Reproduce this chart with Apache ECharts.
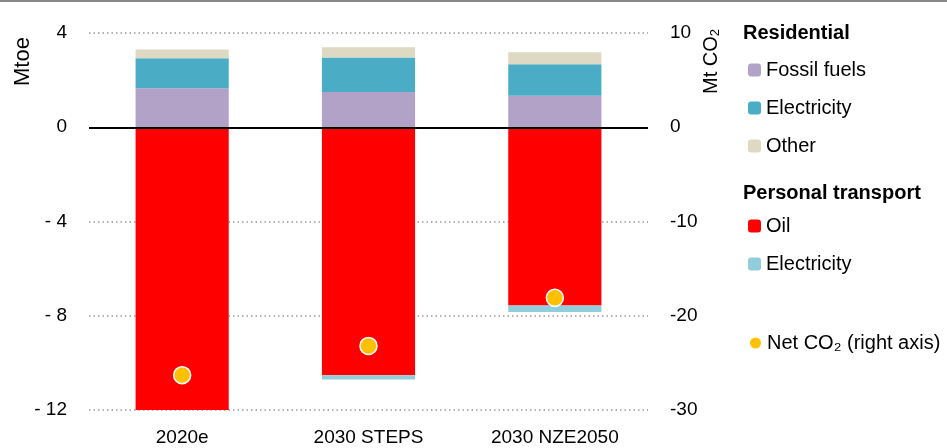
<!DOCTYPE html>
<html>
<head>
<meta charset="utf-8">
<script src="https://cdn.jsdelivr.net/npm/echarts@6/dist/echarts.min.js"></script>
<style>
  html, body { margin: 0; padding: 0; background: #fff; }
  #chart { width: 947px; height: 448px; }
</style>
</head>
<body>
<div id="chart"></div>
<script>
// data (Mtoe, Mt CO2)
const categories = ['2020e', '2030 STEPS', '2030 NZE2050'];
const resFossil = [1.66, 1.50, 1.34];
const resElectricity = [1.27, 1.46, 1.33];
const resOther = [0.37, 0.44, 0.51];
const transportOil = [-12.0, -10.53, -7.57];
const transportElectricity = [0, -0.18, -0.27];
const netCO2 = [-26.3, -23.2, -18.1];

const font = 'Liberation Sans';

const colors = {
    fossil: '#B3A2C7',
    resElec: '#4BACC6',
    other: '#DDD9C3',
    oil: '#FF0000',
    trElec: '#92CDDC',
    co2: '#FFC000'
};

const chart = echarts.init(document.getElementById('chart'));

function barSeries(name, data, color) {
    return {
        name: name,
        type: 'bar',
        stack: 'total',
        barWidth: '50%',
        data: data,
        itemStyle: { color: color },
        emphasis: { disabled: true }
    };
}

const legendCommon = {
    orient: 'vertical',
    left: 748,
    padding: 0,
    itemWidth: 13,
    itemHeight: 13,
    itemGap: 18,
    textStyle: { fontFamily: font, fontSize: 20, color: '#000' },
    // two series are called Electricity, keep them apart by a suffix
    formatter: (name) => name.replace(/ \((residential|transport)\)$/, ''),
    selectedMode: false
};

const option = {
    animation: false,
    grid: { left: 89, right: 299, top: 33, bottom: 38 },
    xAxis: {
        type: 'category',
        data: categories,
        axisLine: { show: false, onZero: false },
        axisTick: { show: false },
        axisLabel: { fontFamily: font, fontSize: 19, color: '#000', margin: 18 }
    },
    yAxis: [{
        type: 'value',
        min: -12,
        max: 4,
        interval: 4,
        axisLine: { show: false },
        axisTick: { show: false },
        axisLabel: {
            fontFamily: font, fontSize: 19, color: '#000', margin: 22,
            formatter: (v) => v < 0 ? '- ' + Math.abs(v) : String(v)
        },
        splitLine: { lineStyle: { color: '#999', width: 1.5, type: [1.5, 3] } }
    }, {
        type: 'value',
        min: -30,
        max: 10,
        interval: 10,
        axisLine: { show: false },
        axisTick: { show: false },
        axisLabel: { fontFamily: font, fontSize: 19, color: '#000', margin: 22 },
        splitLine: { show: false }
    }],
    legend: [
        Object.assign({}, legendCommon, {
            top: 60,
            data: ['Fossil fuels', 'Electricity (residential)', 'Other']
        }),
        Object.assign({}, legendCommon, {
            top: 216,
            data: ['Oil', 'Electricity (transport)']
        }),
        Object.assign({}, legendCommon, {
            top: 333,
            data: [{ name: 'Net CO₂ (right axis)', icon: 'circle' }]
        })
    ],
    graphic: [
        { type: 'line', shape: { x1: 0, y1: 1, x2: 947, y2: 1 }, style: { stroke: '#888', lineWidth: 2 } },
        { type: 'text', left: 743, top: 23, style: { text: 'Residential', font: 'bold 20px ' + font, fill: '#000' } },
        { type: 'text', left: 743, top: 183, style: { text: 'Personal transport', font: 'bold 20px ' + font, fill: '#000' } },
        { type: 'text', x: 12, y: 86, rotation: Math.PI / 2, style: { text: 'Mtoe', font: '22px ' + font, fill: '#000' } },
        {
            type: 'text', x: 700, y: 94, rotation: Math.PI / 2,
            style: {
                text: 'Mt CO{sub|2}',
                font: '20px ' + font,
                fill: '#000',
                rich: { sub: { fontFamily: font, fontSize: 13, verticalAlign: 'bottom', padding: [9, 0, 0, 0] } }
            }
        }
    ],
    series: [
        Object.assign(barSeries('Fossil fuels', resFossil, colors.fossil), {
            markLine: {
                silent: true,
                symbol: 'none',
                label: { show: false },
                lineStyle: { color: '#000', width: 2, type: 'solid' },
                data: [{ yAxis: 0 }]
            }
        }),
        barSeries('Electricity (residential)', resElectricity, colors.resElec),
        barSeries('Other', resOther, colors.other),
        barSeries('Oil', transportOil, colors.oil),
        barSeries('Electricity (transport)', transportElectricity, colors.trElec),
        {
            name: 'Net CO₂ (right axis)',
            type: 'scatter',
            yAxisIndex: 1,
            data: netCO2,
            symbolSize: 17,
            z: 5,
            itemStyle: { color: colors.co2, opacity: 1, borderColor: '#fff', borderWidth: 1.5 }
        }
    ]
};

chart.setOption(option);
</script>
</body>
</html>
